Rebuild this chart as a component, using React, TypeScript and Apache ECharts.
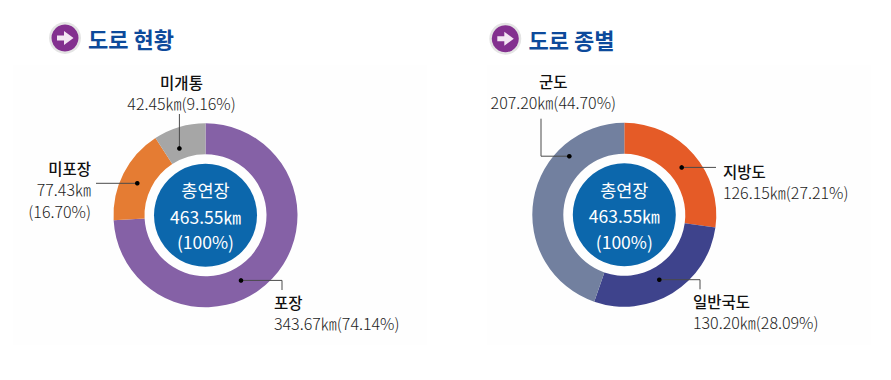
import React, { useEffect, useRef } from "react";
import * as echarts from "echarts";

const surfaceNames = ["포장", "미포장", "미개통"];
const surfaceKm = [343.67, 77.43, 42.45];
const surfacePct = [74.14, 16.7, 9.16];
const surfaceColors = ["#8561a6", "#e57c33", "#a6a6a6"];

const classNames = ["지방도", "일반국도", "군도"];
const classKm = [126.15, 130.2, 207.2];
const classPct = [27.21, 28.09, 44.7];
const classColors = ["#e55b27", "#3e438c", "#72809f"];

const titles = ["도로 현황", "도로 종별"];
const centerLines = ["총연장", "463.55㎞", "(100%)"];

const FONT = "'Noto Sans CJK KR', sans-serif";
const NAME_LH = 21;

type Place = { x: number; y: number; align: "left" | "center" | "right"; breakValue?: boolean };

const surfacePlaces: Place[] = [
  { x: 274, y: 291, align: "left" },
  { x: 91, y: 157.5, align: "right", breakValue: true },
  { x: 181.5, y: 71, align: "center" },
];
const classPlaces: Place[] = [
  { x: 723, y: 160, align: "left" },
  { x: 693, y: 290.5, align: "left" },
  { x: 553.3, y: 70.5, align: "center" },
];

const fmt = (v: number) => v.toFixed(2);

function pie(
  cx: number,
  cy: number,
  names: string[],
  kms: number[],
  pcts: number[],
  colors: string[],
  places: Place[]
) {
  return {
    type: "pie",
    center: [cx, cy],
    radius: [61, 92],
    startAngle: 90,
    clockwise: true,
    silent: true,
    labelLine: { show: false },
    labelLayout: (p: any) => {
      const pl = places[p.dataIndex];
      return { x: pl.x, y: pl.y, align: pl.align, verticalAlign: "top", hideOverlap: false, moveOverlap: false };
    },
    data: names.map((name, i) => {
      const pl = places[i];
      const value = pl.breakValue
        ? `{v|${fmt(kms[i])}㎞}\n{w|(${fmt(pcts[i])}%)}`
        : `{v|${fmt(kms[i])}㎞(${fmt(pcts[i])}%)}`;
      return {
        name,
        value: kms[i],
        itemStyle: { color: colors[i] },
        label: {
          show: true,
          position: "outside",
          formatter: `{n|${name}}\n${value}`,
          align: pl.align,
          rich: {
            n: { fontFamily: FONT, fontSize: 15.5, fontWeight: 500, color: "#111", lineHeight: NAME_LH, align: pl.align },
            v: { fontFamily: FONT, fontSize: 16, fontWeight: 300, color: "#1c1c1c", lineHeight: NAME_LH, align: pl.align },
            w: { fontFamily: FONT, fontSize: 16, fontWeight: 300, color: "#1c1c1c", lineHeight: 23, align: pl.align },
          },
        },
      };
    }),
  };
}

function header(cx: number, cy: number, tx: number, tY: number, title: string) {
  return [
    { type: "circle", shape: { cx, cy, r: 16 }, style: { fill: "#e4e4e4" } },
    { type: "circle", shape: { cx, cy, r: 13.5 }, style: { fill: "#83308f" } },
    {
      type: "polygon",
      shape: {
        points: [
          [cx - 8, cy - 2.5],
          [cx - 1, cy - 2.5],
          [cx - 1, cy - 7],
          [cx + 8.5, cy],
          [cx - 1, cy + 7],
          [cx - 1, cy + 2.5],
          [cx - 8, cy + 2.5],
        ],
      },
      style: { fill: "#f3e6f3" },
    },
    {
      type: "text",
      x: tx,
      y: tY,
      style: {
        text: title,
        fontFamily: FONT,
        fontSize: 22,
        fontWeight: 700,
        fill: "#0d4a9b",
        textAlign: "left",
        textVerticalAlign: "middle",
      },
    },
  ];
}

function centerDisc(cx: number, cy: number) {
  const ys = [-25.5, 1, 26.5];
  return [
    { type: "circle", shape: { cx, cy, r: 51.5 }, style: { fill: "#0c67ac" } },
    ...centerLines.map((t, i) => ({
      type: "text",
      x: cx,
      y: cy + ys[i],
      style: {
        text: t,
        fontFamily: FONT,
        fontSize: 17.5,
        fontWeight: 400,
        fill: "#fff",
        textAlign: "center",
        textVerticalAlign: "middle",
      },
    })),
  ];
}

function leader(points: number[][]) {
  const dot = points[0];
  return [
    {
      type: "polyline",
      z: 20,
      shape: { points },
      style: { stroke: "#4a4a4a", lineWidth: 1, fill: "none" },
    },
    { type: "circle", z: 21, shape: { cx: dot[0], cy: dot[1], r: 2.3 }, style: { fill: "#000" } },
  ];
}

export default function App() {
  const ref = useRef<HTMLDivElement>(null);
  useEffect(() => {
    const chart = echarts.init(ref.current!, undefined, { renderer: "svg" });
    chart.setOption({
      animation: false,
      backgroundColor: "#ffffff",
      series: [
        pie(205.5, 215.3, surfaceNames, surfaceKm, surfacePct, surfaceColors, surfacePlaces),
        pie(624.3, 214.8, classNames, classKm, classPct, classColors, classPlaces),
      ],
      graphic: [
        { type: "rect", z: -1, shape: { x: 13, y: 65, width: 414, height: 280 }, style: { fill: "#fefefe" } },
        { type: "rect", z: -1, shape: { x: 487, y: 65, width: 384, height: 280 }, style: { fill: "#fefefe" } },
        ...header(65, 38, 88, 37.5, titles[0]),
        ...header(505.3, 38.7, 528.5, 38.5, titles[1]),
        ...centerDisc(205.5, 215.3),
        ...centerDisc(624.3, 214.8),
        ...leader([[179.4, 148.4], [179.4, 114]]),
        ...leader([[137.3, 183.3], [96, 183.3]]),
        ...leader([[241, 280.4], [282, 280.4], [282, 290]]),
        ...leader([[569.3, 156.2], [541, 156.2], [541, 118.7]]),
        ...leader([[681.7, 167.4], [716, 167.4]]),
        ...leader([[659.3, 279.7], [700, 279.7], [700, 289.3]]),
      ],
    });
    return () => chart.dispose();
  }, []);
  return <div ref={ref} style={{ position: "absolute", left: 0, top: 0, width: 891, height: 380 }} />;
}
